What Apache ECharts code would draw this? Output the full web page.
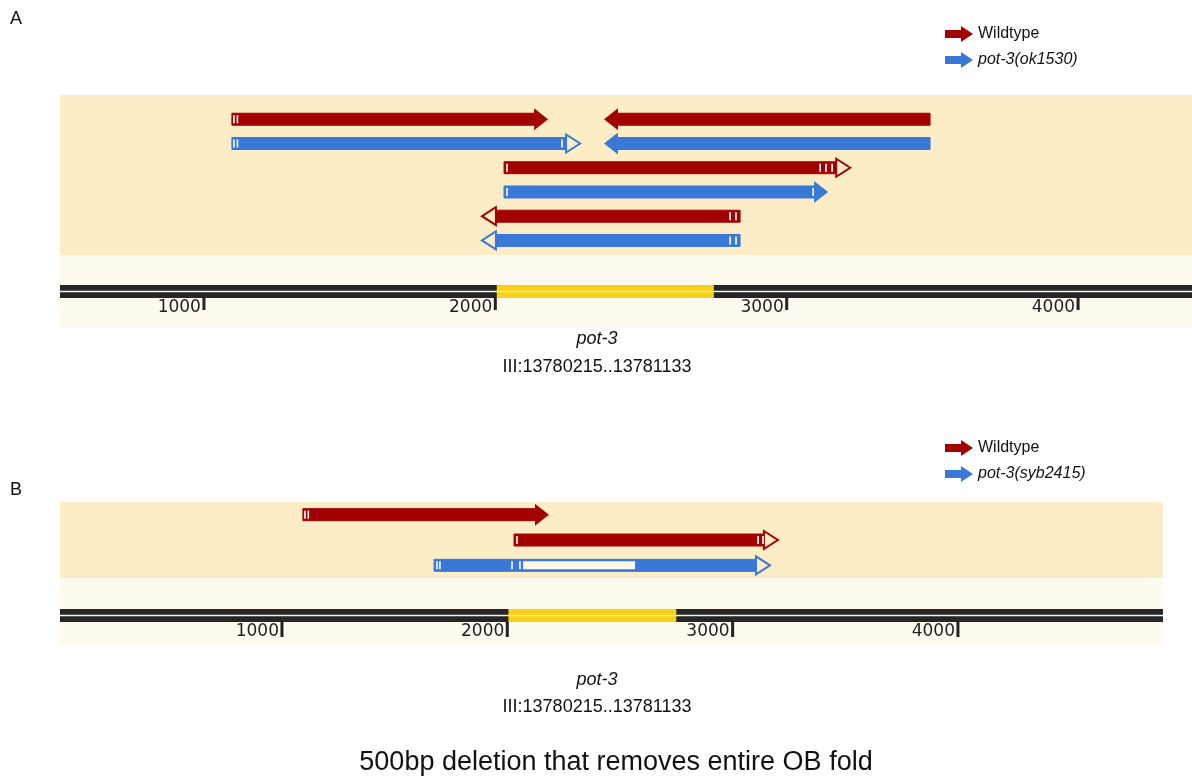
<!DOCTYPE html>
<html>
<head>
<meta charset="utf-8">
<script src="https://cdn.jsdelivr.net/npm/echarts@6/dist/echarts.min.js"></script>
<style>
	html, body { margin: 0; padding: 0; background: #ffffff; }
	#chart { width: 1192px; height: 780px; }
</style>
</head>
<body>
<div id="chart"></div>
<script>
// feature rows: [start bp, end bp, row, strand, head (1 solid, 0 open)]
const wildtypeA = [
	[ 1096, 2181, 1, 1, 1 ],
	[ 2373, 3492, 1, -1, 1 ],
	[ 2030, 3218, 3, 1, 0 ],
	[ 1954, 2840, 5, -1, 0 ]
];
const wildtypeMarksA = [ [ 1103, 1115 ], [], [ 2040, 3115, 3135, 3156 ], [ 2806, 2826 ] ];
const mutantA = [
	[ 1096, 2291, 2, 1, 0 ],
	[ 2373, 3492, 2, -1, 1 ],
	[ 2030, 3142, 4, 1, 1 ],
	[ 1954, 2840, 6, -1, 0 ]
];
const mutantMarksA = [ [ 1103, 1115, 2229 ], [], [ 2040, 3091 ], [ 2806, 2826 ] ];

const wildtypeB = [
	[ 1093, 2185, 1, 1, 1 ],
	[ 2030, 3201, 2, 1, 0 ]
];
const wildtypeMarksB = [ [ 1102, 1117 ], [ 2043, 3113, 3135 ] ];
const mutantB = [
	[ 1675, 3166, 3, 1, 0 ]
];
const mutantMarksB = [ [ 1688, 1701, 2021, 2056 ] ];
const deletionB = [ 2070, 2567 ];

const gene = [ 2005, 2750 ];
const tickValues = [ 1000, 2000, 3000, 4000 ];
const rangeA = [ 506, 4391 ];
const rangeB = [ 15, 4910 ];

const RED = '#a30202';
const BLUE = '#3a78d8';
const BAND = '#fdedc7';
const CREAM = '#fffaf0';
const FONT = '"Liberation Sans", Arial, sans-serif';

function arrowRenderer( feats, marks, color, hollow ) {
	return function ( params, api ) {
		const f = feats[ params.dataIndex ];
		const p1 = api.coord( [ f[ 0 ], f[ 2 ] ] );
		const x2 = api.coord( [ f[ 1 ], f[ 2 ] ] )[ 0 ];
		const x1 = p1[ 0 ];
		const y = p1[ 1 ];
		const bh = 12;
		const headL = 14;
		const hh = f[ 4 ] ? 11 : 9;
		const children = [];
		let bx0, bx1, tri;
		if ( f[ 3 ] > 0 ) {
			bx0 = x1;
			bx1 = x2 - headL;
			tri = [ [ bx1, y - hh ], [ x2, y ], [ bx1, y + hh ] ];
		} else {
			bx0 = x1 + headL;
			bx1 = x2;
			tri = [ [ bx0, y - hh ], [ x1, y ], [ bx0, y + hh ] ];
		}
		children.push( {
			type: 'rect',
			shape: { x: bx0, y: y - bh / 2, width: bx1 - bx0, height: bh },
			style: { fill: color, stroke: color, lineWidth: 1 }
		} );
		children.push( {
			type: 'polygon',
			shape: { points: tri },
			style: f[ 4 ] ?
				{ fill: color } :
				{ fill: BAND, stroke: color, lineWidth: 2 }
		} );
		if ( hollow ) {
			const h0 = api.coord( [ hollow[ 0 ], f[ 2 ] ] )[ 0 ];
			const h1 = api.coord( [ hollow[ 1 ], f[ 2 ] ] )[ 0 ];
			children.push( {
				type: 'rect',
				shape: { x: h0, y: y - bh / 2 + 2, width: h1 - h0, height: bh - 4 },
				style: { fill: '#fdf7ea' }
			} );
		}
		( marks[ params.dataIndex ] || [] ).forEach( ( m ) => {
			const mx = api.coord( [ m, f[ 2 ] ] )[ 0 ];
			children.push( {
				type: 'line',
				shape: { x1: mx, y1: y - 4, x2: mx, y2: y + 4 },
				style: { stroke: '#ffffff', lineWidth: 1.6 }
			} );
		} );
		return { type: 'group', children: children };
	};
}

function rulerRenderer( params, api ) {
	const cs = params.coordSys;
	const x0 = api.coord( [ api.value( 0 ), 0 ] )[ 0 ];
	const x1 = api.coord( [ api.value( 1 ), 0 ] )[ 0 ];
	const isGene = api.value( 2 ) === 1;
	const mid = cs.y + cs.height / 2;
	return {
		type: 'group',
		children: [
			{
				type: 'rect',
				shape: { x: x0, y: cs.y, width: x1 - x0, height: cs.height },
				style: { fill: isGene ? '#f8d016' : '#262626' }
			},
			{
				type: 'rect',
				shape: { x: x0, y: mid - 0.8, width: x1 - x0, height: 1.6 },
				style: { fill: isGene ? '#fbe68a' : '#f4f4f4' }
			}
		]
	};
}

function tickRenderer( len ) {
	return function ( params, api ) {
		const cs = params.coordSys;
		const x = api.coord( [ api.value( 0 ), 0 ] )[ 0 ];
		const y0 = cs.y + cs.height;
		return {
			type: 'group',
			children: [
				{
					type: 'line',
					shape: { x1: x, y1: y0, x2: x, y2: y0 + len },
					style: { stroke: '#222', lineWidth: 3 }
				},
				{
					type: 'text',
					x: x - 3,
					y: y0 + 1,
					style: {
						text: String( api.value( 0 ) ),
						font: '17px "DejaVu Sans", sans-serif',
						fill: '#222',
						align: 'right',
						verticalAlign: 'top'
					}
				}
			]
		};
	};
}

const arrowIcon = 'path://M0,4L16,4L16,0L28,8L16,16L16,12L0,12Z';

const hiddenY = ( grid, min, max ) => ( {
	gridIndex: grid, type: 'value', min: min, max: max, inverse: true, show: false
} );
const hiddenX = ( grid, range ) => ( {
	gridIndex: grid, type: 'value', min: range[ 0 ], max: range[ 1 ], show: false
} );

const legendText = {
	fontFamily: FONT, fontSize: 16, color: '#111',
	rich: { i: { fontStyle: 'italic', fontFamily: FONT, fontSize: 16, color: '#111' } }
};

const option = {
	animation: false,
	backgroundColor: '#ffffff',
	textStyle: { fontFamily: FONT },
	grid: [
		{ left: 60, right: 0, top: 95, height: 160, show: true, backgroundColor: BAND, borderWidth: 0 },
		{ left: 60, right: 0, top: 285, height: 13, borderWidth: 0 },
		{ left: 60, right: 29, top: 502, height: 76, show: true, backgroundColor: BAND, borderWidth: 0 },
		{ left: 60, right: 29, top: 609, height: 13, borderWidth: 0 }
	],
	xAxis: [
		hiddenX( 0, rangeA ),
		hiddenX( 1, rangeA ),
		hiddenX( 2, rangeB ),
		hiddenX( 3, rangeB )
	],
	yAxis: [
		hiddenY( 0, 0, 6.6 ),
		hiddenY( 1, 0, 1 ),
		hiddenY( 2, 0.5, 3.5 ),
		hiddenY( 3, 0, 1 )
	],
	legend: [
		{
			left: 940, top: 21, orient: 'vertical', itemGap: 10, itemWidth: 28, itemHeight: 16,
			icon: arrowIcon, selectedMode: false,
			data: [ 'Wildtype', 'pot-3(ok1530)' ],
			formatter: ( name ) => name === 'Wildtype' ? name : '{i|' + name + '}',
			textStyle: legendText
		},
		{
			left: 940, top: 435, orient: 'vertical', itemGap: 10, itemWidth: 28, itemHeight: 16,
			icon: arrowIcon, selectedMode: false,
			data: [ 'Wildtype ', 'pot-3(syb2415)' ],
			formatter: ( name ) => name === 'Wildtype ' ? 'Wildtype' : '{i|' + name + '}',
			textStyle: legendText
		}
	],
	series: [
		{
			name: 'Wildtype', type: 'custom', xAxisIndex: 0, yAxisIndex: 0,
			itemStyle: { color: RED }, clip: false,
			renderItem: arrowRenderer( wildtypeA, wildtypeMarksA, RED ),
			data: wildtypeA
		},
		{
			name: 'pot-3(ok1530)', type: 'custom', xAxisIndex: 0, yAxisIndex: 0,
			itemStyle: { color: BLUE }, clip: false,
			renderItem: arrowRenderer( mutantA, mutantMarksA, BLUE ),
			data: mutantA
		},
		{
			name: 'ruler A', type: 'custom', xAxisIndex: 1, yAxisIndex: 1,
			renderItem: rulerRenderer,
			data: [ [ rangeA[ 0 ], rangeA[ 1 ], 0 ], [ gene[ 0 ], gene[ 1 ], 1 ] ]
		},
		{
			name: 'ticks A', type: 'custom', xAxisIndex: 1, yAxisIndex: 1, clip: false,
			renderItem: tickRenderer( 12 ),
			data: tickValues.map( ( v ) => [ v ] )
		},
		{
			name: 'Wildtype ', type: 'custom', xAxisIndex: 2, yAxisIndex: 2,
			itemStyle: { color: RED }, clip: false,
			renderItem: arrowRenderer( wildtypeB, wildtypeMarksB, RED ),
			data: wildtypeB
		},
		{
			name: 'pot-3(syb2415)', type: 'custom', xAxisIndex: 2, yAxisIndex: 2,
			itemStyle: { color: BLUE }, clip: false,
			renderItem: arrowRenderer( mutantB, mutantMarksB, BLUE, deletionB ),
			data: mutantB
		},
		{
			name: 'ruler B', type: 'custom', xAxisIndex: 3, yAxisIndex: 3,
			renderItem: rulerRenderer,
			data: [ [ rangeB[ 0 ], rangeB[ 1 ], 0 ], [ gene[ 0 ], gene[ 1 ], 1 ] ]
		},
		{
			name: 'ticks B', type: 'custom', xAxisIndex: 3, yAxisIndex: 3, clip: false,
			renderItem: tickRenderer( 15 ),
			data: tickValues.map( ( v ) => [ v ] )
		}
	],
	graphic: [
		{ type: 'rect', z: -1, shape: { x: 60, y: 255, width: 1132, height: 73 }, style: { fill: CREAM } },
		{ type: 'rect', z: -1, shape: { x: 60, y: 578, width: 1103, height: 67 }, style: { fill: CREAM } },
		{ type: 'text', x: 10, y: 10, style: { text: 'A', font: '18px ' + FONT, fill: '#111' } },
		{ type: 'text', x: 10, y: 481, style: { text: 'B', font: '18px ' + FONT, fill: '#111' } },
		{ type: 'text', x: 597, y: 330, style: { text: 'pot-3', font: 'italic 18px ' + FONT, fill: '#111', align: 'center' } },
		{ type: 'text', x: 597, y: 358, style: { text: 'III:13780215..13781133', font: '18px ' + FONT, fill: '#111', align: 'center' } },
		{ type: 'text', x: 597, y: 671, style: { text: 'pot-3', font: 'italic 18px ' + FONT, fill: '#111', align: 'center' } },
		{ type: 'text', x: 597, y: 698, style: { text: 'III:13780215..13781133', font: '18px ' + FONT, fill: '#111', align: 'center' } },
		{ type: 'text', x: 616, y: 749, style: { text: '500bp deletion that removes entire OB fold', font: '27px ' + FONT, fill: '#111', align: 'center' } }
	]
};

const chart = echarts.init( document.getElementById( 'chart' ) );
chart.setOption( option );
</script>
</body>
</html>
